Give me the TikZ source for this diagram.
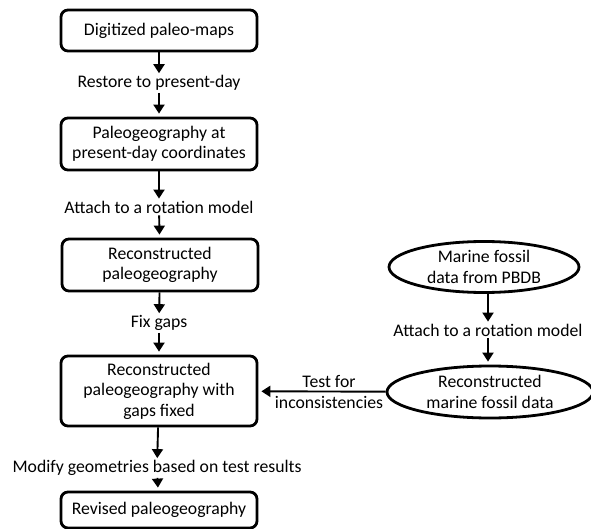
\documentclass[tikz,border=0pt]{standalone}
\usepackage{fontspec}
\setmainfont{Carlito}
\usetikzlibrary{arrows.meta,shapes.geometric}
\begin{document}
\begin{tikzpicture}[x=1pt,y=-1pt,
  font=\fontsize{17.7}{20.5}\selectfont,
  stepbox/.style={draw,line width=2.8pt,rounded corners=7pt,minimum width=196pt,align=center,inner sep=0pt},
  oval/.style={draw,ellipse,line width=2.8pt,align=center,inner sep=0pt},
  lab/.style={align=center,inner sep=2pt},
  arr/.style={line width=1.9pt,-{Triangle[length=9pt,width=11pt]}},
  tobox/.style={arr,shorten >=3pt}]
\useasboundingbox (0,0) rectangle (591,529);
\node[stepbox,minimum height=41pt] (b1) at (159,30.5) {Digitized paleo-maps};
\node[lab] (l1) at (159,83) {Restore to present-day};
\node[stepbox,minimum height=52pt] (b2) at (159,144) {Paleogeography at\\present-day coordinates};
\node[lab] (l2) at (159,207) {Attach to a rotation model};
\node[stepbox,minimum height=52pt] (b3) at (160,265) {Reconstructed\\paleogeography};
\node[lab] (l3) at (159,323) {Fix gaps};
\node[stepbox,minimum height=70pt] (b4) at (159,391) {Reconstructed\\paleogeography with\\gaps fixed};
\node[lab] (l4) at (157,468) {Modify geometries based on test results};
\node[stepbox,minimum height=36pt] (b5) at (159,510) {Revised paleogeography};
\node[oval,minimum width=190pt,minimum height=51pt] (e1) at (484,267) {Marine fossil\\data from PBDB};
\node[lab] (l5) at (488,330) {Attach to a rotation model};
\node[oval,minimum width=206pt,minimum height=52pt] (e2) at (490,392) {Reconstructed\\marine fossil data};
\node[lab] (l6) at (329,392) {Test for\\inconsistencies};
\draw[arr] (b1) -- (l1);
\draw[tobox] (l1) -- (b2);
\draw[arr] (b2) -- (l2);
\draw[tobox] (l2) -- (b3);
\draw[arr] (b3) -- (l3);
\draw[tobox] (l3) -- (b4);
\draw[arr] (b4) -- (l4);
\draw[tobox] (l4) -- (b5);
\draw[arr] (e1.south -| l5) -- (l5);
\draw[tobox] (l5) -- (l5 |- e2.north);
\draw[tobox] (e2) -- (b4);
\end{tikzpicture}
\end{document}
